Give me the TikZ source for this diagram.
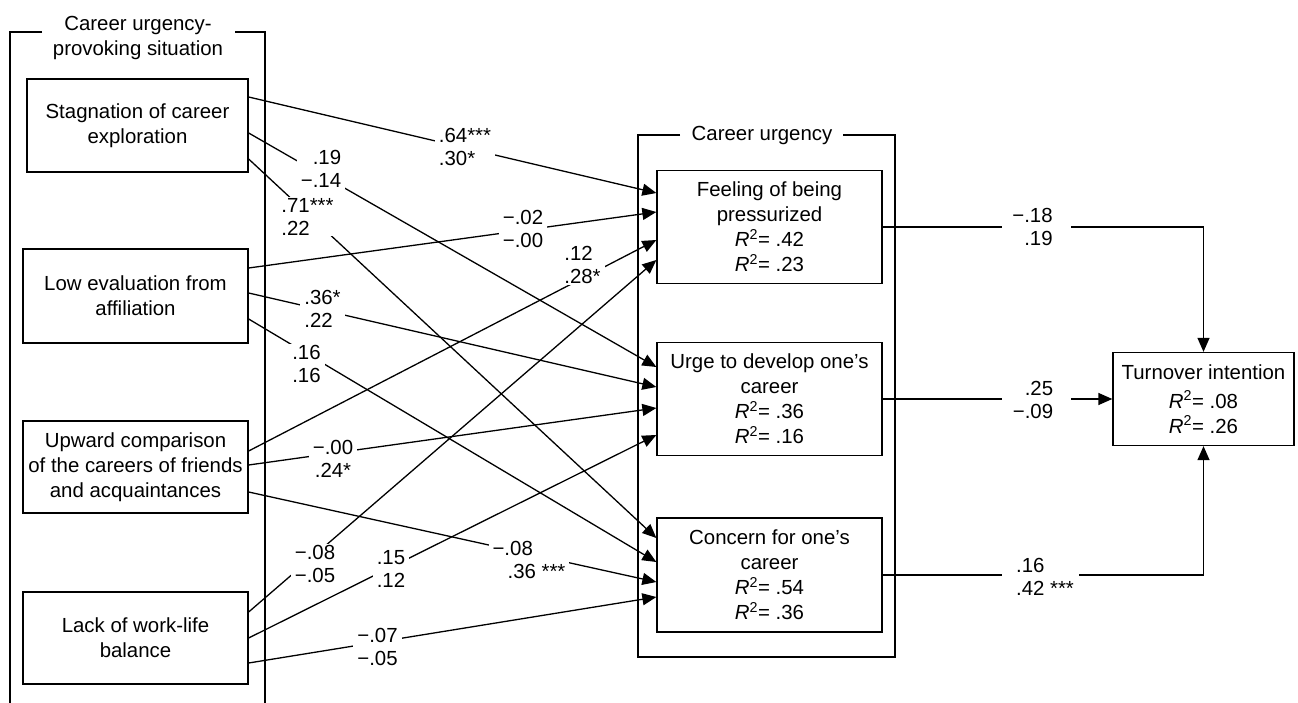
\documentclass[tikz,border=0pt]{standalone}
\usepackage{fontspec}
\setmainfont{Liberation Sans}
\usetikzlibrary{arrows.meta}
\newcommand{\rsq}{\textit{R}\textsuperscript{2}}
\begin{document}
\begin{tikzpicture}[x=1pt,y=-1pt,line width=1.3pt,
  every node/.style={font=\fontsize{20.4}{25}\selectfont},
  box/.style={draw,line width=1.3pt,align=center,inner sep=0pt},
  lab/.style={fill=white,inner xsep=4pt,inner ysep=1pt,font=\fontsize{20.4}{23}\selectfont},
  ttl/.style={inner sep=0pt,align=center},
  arr/.style={-{Triangle[length=14pt,width=12pt]}}]
\useasboundingbox (0,0) rectangle (1298,703);

% frames
\node[ttl,anchor=north] (ttlA) at (138,16) {Career urgency-\\provoking situation};
\draw (42,32) -- (10,32) -- (10,703);
\draw (235,32) -- (265,32) -- (265,703);
\node[ttl,anchor=base] (ttlB) at (762,141) {Career urgency};
\draw (680,135) -- (638,135) -- (638,657) -- (895,657) -- (895,135) -- (843,135);

% boxes
\node[box,minimum width=221pt,minimum height=93pt] (stag) at (137.5,125.5) {Stagnation of career\\exploration};
\node[box,minimum width=225pt,minimum height=94pt] (low) at (135.5,296) {Low evaluation from\\affiliation};
\node[box,minimum width=225pt,minimum height=92pt] (up) at (135.5,467) {Upward comparison\\of the careers of friends\\and acquaintances};
\node[box,minimum width=225pt,minimum height=92pt] (lack) at (135.5,638) {Lack of work-life\\balance};
\node[box,minimum width=225pt,minimum height=113pt] (feel) at (769.5,227) {Feeling of being\\pressurized\\\rsq= .42\\\rsq= .23};
\node[box,minimum width=225pt,minimum height=113pt] (urge) at (769.5,399) {Urge to develop one’s\\career\\\rsq= .36\\\rsq= .16};
\node[box,minimum width=225pt,minimum height=114pt] (conc) at (769.5,575) {Concern for one’s\\career\\\rsq= .54\\\rsq= .36};
\node[box,minimum width=181pt,minimum height=93pt] (turn) at (1203.5,399) {Turnover intention\\[4pt]\rsq= .08\\\rsq= .26};

% source points
\coordinate (s1) at (stag.east |- 0,97);
\coordinate (s2) at (stag.east |- 0,133);
\coordinate (s3) at (stag.east |- 0,159);
\coordinate (s4) at (low.east |- 0,268);
\coordinate (s5) at (low.east |- 0,293);
\coordinate (s6) at (low.east |- 0,319);
\coordinate (s7) at (up.east |- 0,451);
\coordinate (s8) at (up.east |- 0,465);
\coordinate (s9) at (up.east |- 0,492);
\coordinate (s10) at (lack.east |- 0,612);
\coordinate (s11) at (lack.east |- 0,638);
\coordinate (s12) at (lack.east |- 0,663);
% target points
\coordinate (f1) at (feel.west |- 0,193);
\coordinate (f2) at (feel.west |- 0,212);
\coordinate (f3) at (feel.west |- 0,240);
\coordinate (f4) at (feel.west |- 0,260);
\coordinate (u1) at (urge.west |- 0,367);
\coordinate (u2) at (urge.west |- 0,387);
\coordinate (u3) at (urge.west |- 0,408);
\coordinate (u4) at (urge.west |- 0,435);
\coordinate (c1) at (conc.west |- 0,538);
\coordinate (c2) at (conc.west |- 0,562);
\coordinate (c3) at (conc.west |- 0,582);
\coordinate (c4) at (conc.west |- 0,597);

% input paths
\draw[arr] (s1) -- (f1);
\draw[arr] (s2) -- (u1);
\draw[arr] (s3) -- (c1);
\draw[arr] (s4) -- (f2);
\draw[arr] (s5) -- (u2);
\draw[arr] (s6) -- (c2);
\draw[arr] (s7) -- (f3);
\draw[arr] (s8) -- (u3);
\draw[arr] (s9) -- (c3);
\draw[arr] (s10) -- (f4);
\draw[arr] (s11) -- (u4);
\draw[arr] (s12) -- (c4);

% labels
\node[lab,align=left] (l1) at (465,146.5) {.64***\\.30*};
\node[lab,align=right] (l2) at (321,169) {.19\\−.14};
\node[lab,align=left] (l3) at (307.5,216.5) {.71***\\.22};
\node[lab,align=left] (l4) at (523,228.5) {−.02\\−.00};
\node[lab,align=left] (l5) at (322.5,309) {.36*\\.22};
\node[lab,align=left] (l6) at (306.5,364) {.16\\.16};
\node[lab,align=left] (l7) at (582.5,265) {.12\\.28*};
\node[lab,align=center] (l8) at (333,458.5) {−.00\\.24*};
\node[lab,align=left] (l9) at (529,560) {−.08\\\hspace*{15pt}.36 ***};
\node[lab,align=left] (l10) at (315,563.5) {−.08\\−.05};
\node[lab,align=left] (l11) at (391,568.5) {.15\\.12};
\node[lab,align=left] (l12) at (377.5,647) {−.07\\−.05};

% outputs
\coordinate (g1a) at (1002,227);
\coordinate (g1b) at (1071,227);
\coordinate (g2a) at (1002,399);
\coordinate (g2b) at (1071,399);
\coordinate (g3a) at (1002,575);
\coordinate (g3b) at (1079,575);
\draw (feel.east) -- (g1a);
\draw[arr] (g1b) -| (turn.north);
\draw (urge.east) -- (g2a);
\draw[arr] (g2b) -- (turn.west);
\draw (conc.east) -- (g3a);
\draw[arr] (g3b) -| (turn.south);
\node[lab,align=right] (o1) at (1032.5,226.5) {−.18\\.19};
\node[lab,align=right] (o2) at (1033,400) {.25\\−.09};
\node[lab,align=left] (o3) at (1045,576.5) {.16\\.42 ***};
\end{tikzpicture}
\end{document}
